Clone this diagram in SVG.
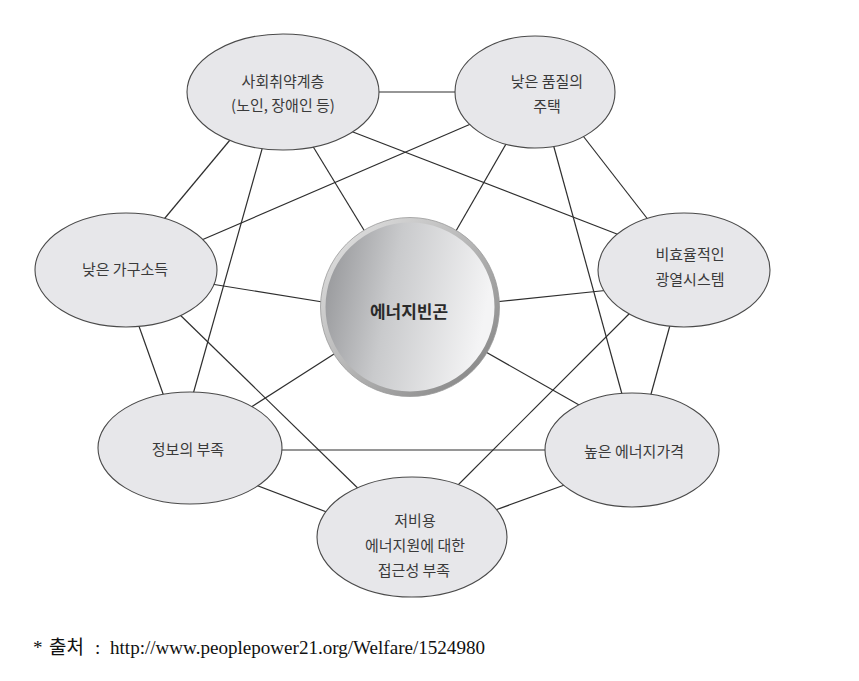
<svg xmlns="http://www.w3.org/2000/svg" width="859" height="681" viewBox="0 0 859 681">
<defs>
<linearGradient id="cg" x1="0" y1="0" x2="1" y2="0.2">
<stop offset="0" stop-color="#8f9093"/>
<stop offset="0.45" stop-color="#c9cacc"/>
<stop offset="1" stop-color="#f4f4f5"/>
</linearGradient>
<linearGradient id="rim" x1="0" y1="0" x2="1" y2="1">
<stop offset="0" stop-color="#e6e6e6"/>
<stop offset="0.5" stop-color="#b5b5b5"/>
<stop offset="1" stop-color="#7e7e7e"/>
</linearGradient>
</defs>
<style>
.e{fill:#e7e7ea;stroke:#4a4a4a;stroke-width:1.1}
.t{font-family:"Noto Sans CJK KR","Noto Sans",sans-serif;font-size:15px;fill:#3a3a3a;text-anchor:middle}
.c line{stroke:#2e2e2e;stroke-width:1.2}
.cap{font-family:"Liberation Serif","Noto Sans CJK KR",serif;font-size:19px;fill:#111}
</style>
<rect width="859" height="681" fill="#ffffff"/>
<g id="connectors" class="c">
<line x1="370" y1="92" x2="465" y2="92"/>
<line x1="240" y1="128" x2="155" y2="230"/>
<line x1="266" y1="135" x2="190" y2="405"/>
<line x1="306" y1="135" x2="370" y2="240"/>
<line x1="340" y1="127" x2="635" y2="241"/>
<line x1="480" y1="120" x2="190" y2="245"/>
<line x1="510" y1="137" x2="445" y2="250"/>
<line x1="552" y1="140" x2="625" y2="405"/>
<line x1="580" y1="132" x2="660" y2="235"/>
<line x1="205" y1="283" x2="335" y2="304"/>
<line x1="135" y1="315" x2="167" y2="405"/>
<line x1="175" y1="310" x2="370" y2="500"/>
<line x1="610" y1="290" x2="485" y2="303"/>
<line x1="672" y1="318" x2="648" y2="405"/>
<line x1="640" y1="303" x2="445" y2="498"/>
<line x1="275" y1="450" x2="555" y2="450"/>
<line x1="240" y1="479" x2="345" y2="519"/>
<line x1="570" y1="483" x2="490" y2="512"/>
<line x1="345" y1="347" x2="245" y2="411"/>
<line x1="470" y1="343" x2="595" y2="414"/>
</g>
<g id="node-vulnerable">
<ellipse class="e" cx="283" cy="92" rx="96" ry="58"/>
<text class="t" x="283" y="87">사회취약계층</text>
<text class="t" x="283" y="111">(노인, 장애인 등)</text>
</g>
<g id="node-housing">
<ellipse class="e" cx="535" cy="92" rx="80" ry="56"/>
<text class="t" x="547" y="87">낮은 품질의</text>
<text class="t" x="547" y="112">주택</text>
</g>
<g id="node-income">
<ellipse class="e" cx="126" cy="270" rx="91" ry="57"/>
<text class="t" x="125" y="275">낮은 가구소득</text>
</g>
<g id="node-heating">
<ellipse class="e" cx="684" cy="270" rx="86" ry="57"/>
<text class="t" x="690" y="260">비효율적인</text>
<text class="t" x="690" y="285">광열시스템</text>
</g>
<g id="node-center">
<circle cx="410" cy="307" r="87" fill="url(#cg)" stroke="url(#rim)" stroke-width="5"/>
<circle cx="410" cy="307" r="89.5" fill="none" stroke="#9a9a9a" stroke-width="0.8"/>
<text x="409" y="318" text-anchor="middle" font-family="'Noto Sans CJK KR','Noto Sans',sans-serif" font-size="17" font-weight="bold" fill="#2a2a2a">에너지빈곤</text>
</g>
<g id="node-info">
<ellipse class="e" cx="190" cy="448" rx="92" ry="56"/>
<text class="t" x="188" y="455">정보의 부족</text>
</g>
<g id="node-price">
<ellipse class="e" cx="632" cy="450" rx="87" ry="57"/>
<text class="t" x="634" y="457">높은 에너지가격</text>
</g>
<g id="node-access">
<ellipse class="e" cx="412" cy="537" rx="95" ry="60"/>
<text class="t" x="415" y="526">저비용</text>
<text class="t" x="415" y="551">에너지원에 대한</text>
<text class="t" x="414" y="576">접근성 부족</text>
</g>
<g id="caption">
<text class="cap" x="33" y="654">*</text>
<text class="cap" x="49" y="654">출처</text>
<text class="cap" x="95" y="654">:</text>
<text class="cap" x="110" y="654" textLength="375" lengthAdjust="spacingAndGlyphs">http://www.peoplepower21.org/Welfare/1524980</text>
</g>
</svg>
